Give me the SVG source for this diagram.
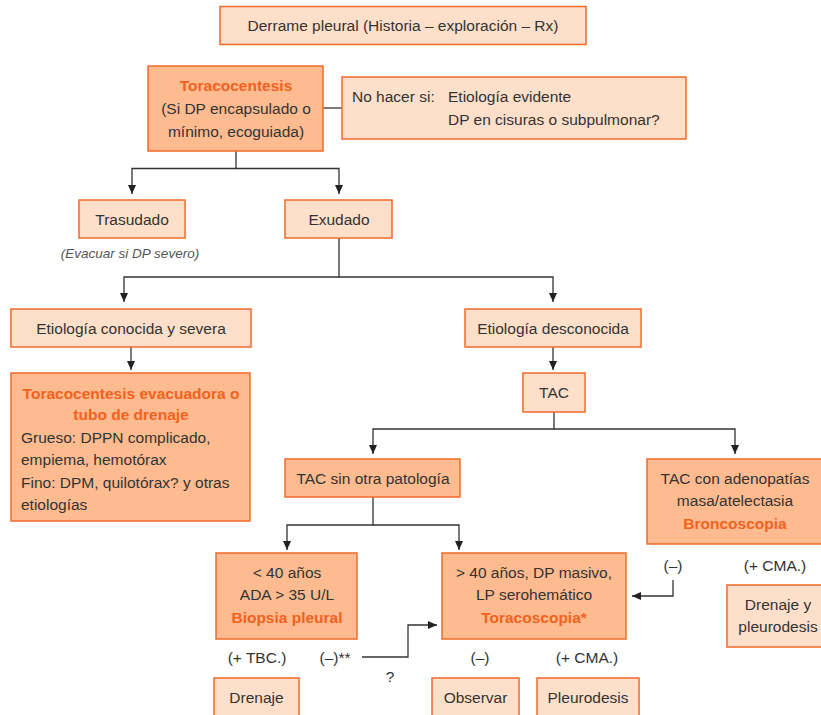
<svg xmlns="http://www.w3.org/2000/svg" width="821" height="715" viewBox="0 0 821 715">
<defs>
<style>
.lt{fill:#FEDFC9;stroke:#F26A2A;stroke-width:1.5}
.dk{fill:#FDBB8F;stroke:#F26A2A;stroke-width:1.5}
text{font-family:"Liberation Sans",Arial,sans-serif;font-size:15.5px;fill:#333}
.c{text-anchor:middle}
.or{fill:#F2621F;font-weight:bold}
.it{font-style:italic;font-size:13.5px;fill:#555}
.ln{fill:none;stroke:#333;stroke-width:1.3}
</style>
<marker id="ah" markerUnits="userSpaceOnUse" markerWidth="10" markerHeight="10" viewBox="0 0 10 10" refX="9" refY="5" orient="auto">
<path d="M0 1 L9 5 L0 9 Z" fill="#222"/>
</marker>
</defs>
<rect width="821" height="715" fill="#fff"/>

<g id="connectors">
<path class="ln" d="M323 108 H342"/>
<path class="ln" d="M236 151 V168.5 H132 V194" marker-end="url(#ah)"/>
<path class="ln" d="M236 168.5 H339 V194" marker-end="url(#ah)"/>
<path class="ln" d="M339 238 V277 H124 V302" marker-end="url(#ah)"/>
<path class="ln" d="M339 277 H553 V302" marker-end="url(#ah)"/>
<path class="ln" d="M131 347 V370" marker-end="url(#ah)"/>
<path class="ln" d="M553 347 V370" marker-end="url(#ah)"/>
<path class="ln" d="M554 412 V429 H373 V454" marker-end="url(#ah)"/>
<path class="ln" d="M554 429 H735 V454" marker-end="url(#ah)"/>
<path class="ln" d="M373 497 V525 H287 V550" marker-end="url(#ah)"/>
<path class="ln" d="M373 525 H459 V550" marker-end="url(#ah)"/>
<path class="ln" d="M362 657 H408 V625 H437" marker-end="url(#ah)"/>
<path class="ln" d="M673 580 V596 H632" marker-end="url(#ah)"/>
</g>

<g id="derrame"><rect class="lt" x="220" y="6.5" width="366" height="38"/>
<text class="c" x="403" y="31">Derrame pleural (Historia – exploración – Rx)</text></g>

<g id="toracocentesis"><rect class="dk" x="148" y="66" width="175" height="85"/>
<text class="c or" x="236" y="90.5">Toracocentesis</text>
<text class="c" x="236" y="113.5">(Si DP encapsulado o</text>
<text class="c" x="236" y="136.5">mínimo, ecoguiada)</text></g>

<g id="nohacer"><rect class="lt" x="342" y="77" width="344" height="62"/>
<text x="352" y="101.5">No hacer si:</text>
<text x="448" y="101.5">Etiología evidente</text>
<text x="448" y="124.5">DP en cisuras o subpulmonar?</text></g>

<g id="trasudado"><rect class="lt" x="79" y="200" width="106" height="38"/>
<text class="c" x="132" y="224.5">Trasudado</text>
<text class="c it" x="130" y="258">(Evacuar si DP severo)</text></g>

<g id="exudado"><rect class="lt" x="285" y="200" width="107" height="38"/>
<text class="c" x="339" y="224.5">Exudado</text></g>

<g id="conocida"><rect class="lt" x="11" y="309" width="240" height="38"/>
<text class="c" x="131" y="333.5">Etiología conocida y severa</text></g>

<g id="desconocida"><rect class="lt" x="465" y="309" width="176" height="38"/>
<text class="c" x="553" y="333.5">Etiología desconocida</text></g>

<g id="evacuadora"><rect class="dk" x="11" y="373" width="239" height="148"/>
<text class="c or" x="131" y="398.5">Toracocentesis evacuadora o</text>
<text class="c or" x="131" y="419.5">tubo de drenaje</text>
<text x="21" y="442.5">Grueso: DPPN complicado,</text>
<text x="21" y="464.5">empiema, hemotórax</text>
<text x="21" y="487.5">Fino: DPM, quilotórax? y otras</text>
<text x="21" y="509.5">etiologías</text></g>

<g id="tac"><rect class="lt" x="523" y="373" width="62" height="39"/>
<text class="c" x="554" y="397.5">TAC</text></g>

<g id="tacsin"><rect class="dk" x="285" y="459" width="175" height="38"/>
<text class="c" x="373" y="483.5">TAC sin otra patología</text></g>

<g id="taccon"><rect class="dk" x="647" y="459" width="177" height="85"/>
<text class="c" x="735" y="483.5">TAC con adenopatías</text>
<text class="c" x="735" y="505.5">masa/atelectasia</text>
<text class="c or" x="735" y="528.5">Broncoscopia</text></g>

<g id="menos40"><rect class="dk" x="216" y="553" width="141" height="86"/>
<text class="c" x="287" y="577.5">&lt; 40 años</text>
<text class="c" x="287" y="599.5">ADA &gt; 35 U/L</text>
<text class="c or" x="287" y="622.5">Biopsia pleural</text></g>

<g id="mas40"><rect class="dk" x="442" y="553" width="184" height="86"/>
<text class="c" x="534" y="577.5">&gt; 40 años, DP masivo,</text>
<text class="c" x="534" y="599.5">LP serohemático</text>
<text class="c or" x="534" y="622.5">Toracoscopia*</text></g>

<g id="labels">
<text class="c" x="257" y="662.5">(+ TBC.)</text>
<text class="c" x="335" y="662.5">(–)**</text>
<text class="c" x="390" y="681.5">?</text>
<text class="c" x="480" y="662.5">(–)</text>
<text class="c" x="587" y="662.5">(+ CMA.)</text>
<text class="c" x="673" y="570.5">(–)</text>
<text class="c" x="775" y="570.5">(+ CMA.)</text>
</g>

<g id="drenaje"><rect class="lt" x="214" y="678" width="85" height="42"/>
<text class="c" x="256.5" y="702.5">Drenaje</text></g>

<g id="observar"><rect class="lt" x="432" y="678" width="87" height="42"/>
<text class="c" x="475.5" y="702.5">Observar</text></g>

<g id="pleurodesis"><rect class="lt" x="537" y="678" width="102" height="42"/>
<text class="c" x="588" y="702.5">Pleurodesis</text></g>

<g id="drenajeypleuro"><rect class="lt" x="727" y="585" width="103" height="62"/>
<text class="c" x="778" y="609.5">Drenaje y</text>
<text class="c" x="778" y="631.5">pleurodesis</text></g>
</svg>
